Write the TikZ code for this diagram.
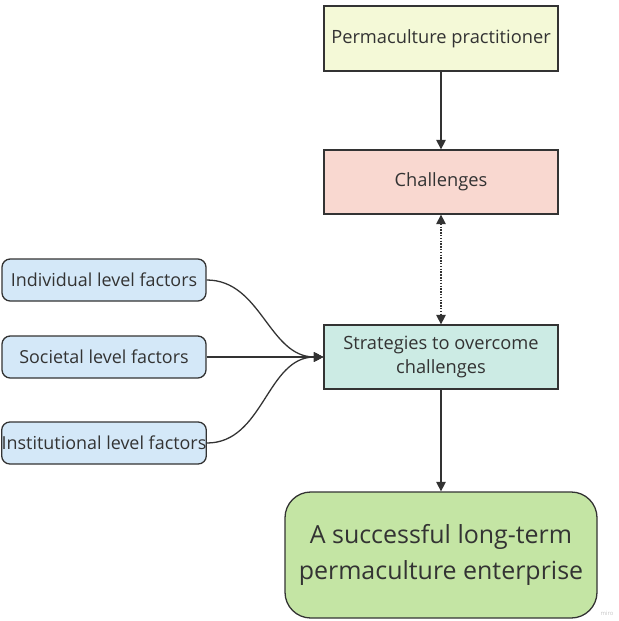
\documentclass[tikz,border=0pt]{standalone}
\usepackage{fontspec}
\setmainfont{Open Sans}
\usetikzlibrary{arrows.meta}
\definecolor{edgegray}{HTML}{333333}
\definecolor{txtgray}{HTML}{333333}
\definecolor{practfill}{HTML}{F4F9D7}
\definecolor{challfill}{HTML}{F9D8D0}
\definecolor{stratfill}{HTML}{CCEBE4}
\definecolor{entfill}{HTML}{C4E5A4}
\definecolor{factfill}{HTML}{D4E8F8}
\begin{document}
\begin{tikzpicture}[x=0.03cm, y=-0.03cm,
    box/.style={draw=edgegray, line width=1.1pt, text=txtgray, align=center, inner sep=0pt},
    factor/.style={box, fill=factfill, rounded corners=7pt, minimum width=204*0.03cm, minimum height=42*0.03cm, font=\fontsize{15.3}{18}\selectfont},
    link/.style={draw=edgegray, line width=1.1pt, -{Triangle[length=8pt,width=8pt]}}]
    \useasboundingbox (0,0) rectangle (618,621);

    % Main column
    \node[box, fill=practfill, minimum width=234*0.03cm, minimum height=65*0.03cm,
        font=\fontsize{15.6}{18}\selectfont] (pract) at (441,38.5) {Permaculture practitioner};
    \node[box, fill=challfill, minimum width=234*0.03cm, minimum height=64*0.03cm,
        font=\fontsize{15.6}{18}\selectfont] (chall) at (441,182) {Challenges};
    \node[box, fill=stratfill, minimum width=234*0.03cm, minimum height=64*0.03cm,
        font=\fontsize{15.6}{20.5}\selectfont] (strat) at (441,357) {Strategies to overcome\\challenges};
    \node[box, fill=entfill, rounded corners=22pt, minimum width=312*0.03cm, minimum height=126*0.03cm,
        font=\fontsize{21.3}{30.7}\selectfont] (ent) at (441,555) {A successful long-term\\permaculture enterprise};

    % Factor boxes
    \node[factor] (indiv) at (104,280) {Individual level factors};
    \node[factor] (soc) at (104,357) {Societal level factors};
    \node[factor] (inst) at (104,443) {Institutional level factors};

    % Connectors
    \draw[link] (pract) -- (chall);
    \draw[link, dash pattern=on 1.2pt off 1.2pt, {Triangle[length=8pt,width=8pt]}-{Triangle[length=8pt,width=8pt]}] (chall) -- (strat);
    \draw[link] (strat) -- (ent);
    \draw[link] (indiv.east) to[out=0, in=180] (strat.west);
    \draw[link] (soc.east) -- (strat.west);
    \draw[link] (inst.east) to[out=0, in=180] (strat.west);

    % Watermark
    \node[text=gray!45, font=\fontsize{5}{6}\selectfont, inner sep=0pt] (mark) at (607,613) {miro};
\end{tikzpicture}
\end{document}
